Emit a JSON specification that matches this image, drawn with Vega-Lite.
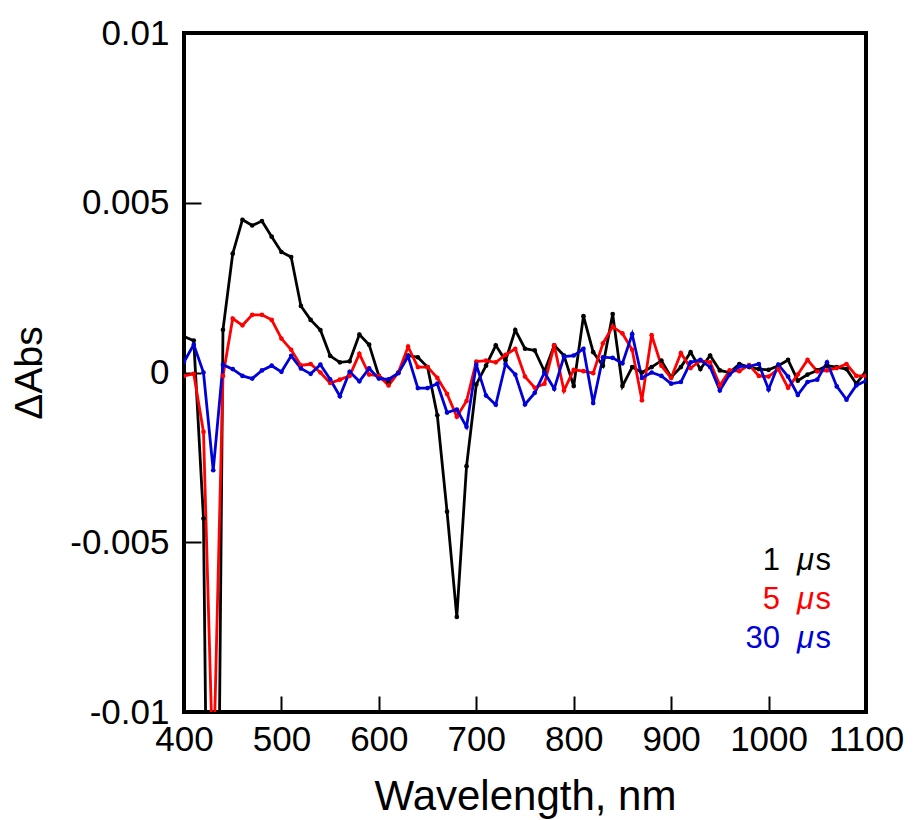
{
  "$schema": "https://vega.github.io/schema/vega-lite/v6.json",
  "width": 682,
  "height": 679,
  "autosize": "none",
  "padding": {"left": 184, "top": 33, "right": 49, "bottom": 108},
  "background": "white",
  "config": {
    "view": {"stroke": "black", "strokeWidth": 4},
    "font": "Liberation Sans",
    "axis": {"grid": false, "domain": false, "labelColor": "black", "titleColor": "black", "tickColor": "black", "titleFontWeight": "normal", "labelFlush": false, "labelOverlap": false}
  },
  "datasets": {
    "spec": [
      {"wl":400,"k1":0.00106,"k5":-0.0001,"k30":0.00031},
      {"wl":410,"k1":0.00094,"k5":-0.00004,"k30":0.00082},
      {"wl":420,"k1":-0.0043,"k5":-0.00175,"k30":0.0},
      {"wl":430,"k1":-0.031,"k5":-0.012,"k30":-0.00288},
      {"wl":440,"k1":0.00126,"k5":-0.0001,"k30":0.00023},
      {"wl":450,"k1":0.0035,"k5":0.00159,"k30":0.0001},
      {"wl":460,"k1":0.0045,"k5":0.00139,"k30":-0.0001},
      {"wl":470,"k1":0.00433,"k5":0.0017,"k30":-0.00018},
      {"wl":480,"k1":0.00446,"k5":0.0017,"k30":0.00006},
      {"wl":490,"k1":0.0040,"k5":0.00155,"k30":0.0002},
      {"wl":500,"k1":0.00355,"k5":0.001,"k30":0.00002},
      {"wl":510,"k1":0.0034,"k5":0.00067,"k30":0.00049},
      {"wl":520,"k1":0.00196,"k5":0.00021,"k30":0.00012},
      {"wl":530,"k1":0.00155,"k5":0.00025,"k30":-0.00004},
      {"wl":540,"k1":0.00125,"k5":0.0,"k30":0.00023},
      {"wl":550,"k1":0.00049,"k5":-0.00031,"k30":-0.0002},
      {"wl":560,"k1":0.0003,"k5":-0.00021,"k30":-0.0007},
      {"wl":570,"k1":0.00033,"k5":-0.0001,"k30":0.00002},
      {"wl":580,"k1":0.00112,"k5":0.00055,"k30":-0.00026},
      {"wl":590,"k1":0.00082,"k5":-0.00006,"k30":0.00012},
      {"wl":600,"k1":-0.0001,"k5":-0.0001,"k30":-0.00018},
      {"wl":610,"k1":-0.0003,"k5":-0.00038,"k30":-0.0002},
      {"wl":620,"k1":0.0,"k5":0.0,"k30":-0.00002},
      {"wl":630,"k1":0.0005,"k5":0.00076,"k30":0.00048},
      {"wl":640,"k1":0.00045,"k5":0.00016,"k30":-0.00046},
      {"wl":650,"k1":0.00016,"k5":0.00016,"k30":-0.00046},
      {"wl":660,"k1":-0.00126,"k5":-0.00016,"k30":-0.00033},
      {"wl":670,"k1":-0.0041,"k5":-0.00063,"k30":-0.00118},
      {"wl":680,"k1":-0.0072,"k5":-0.0013,"k30":-0.00109},
      {"wl":690,"k1":-0.00276,"k5":-0.00084,"k30":-0.0016},
      {"wl":700,"k1":-0.00035,"k5":0.00032,"k30":0.00023},
      {"wl":710,"k1":0.0002,"k5":0.00035,"k30":-0.00068},
      {"wl":720,"k1":0.0008,"k5":0.0003,"k30":-0.00095},
      {"wl":730,"k1":0.00035,"k5":0.00052,"k30":0.00025},
      {"wl":740,"k1":0.00125,"k5":0.0007,"k30":-0.00006},
      {"wl":750,"k1":0.0007,"k5":-0.00012,"k30":-0.00094},
      {"wl":760,"k1":0.00065,"k5":-0.00045,"k30":-0.0006},
      {"wl":770,"k1":0.00003,"k5":-0.00033,"k30":0.0},
      {"wl":780,"k1":0.0008,"k5":0.0008,"k30":-0.00048},
      {"wl":790,"k1":0.0005,"k5":-0.00053,"k30":0.00047},
      {"wl":800,"k1":-0.0004,"k5":0.00008,"k30":0.0005},
      {"wl":810,"k1":0.00166,"k5":0.00004,"k30":0.0007},
      {"wl":820,"k1":0.0006,"k5":-0.00002,"k30":-0.0009},
      {"wl":830,"k1":0.0002,"k5":0.00086,"k30":0.00045},
      {"wl":840,"k1":0.00172,"k5":0.00135,"k30":0.00043},
      {"wl":850,"k1":-0.0004,"k5":0.00115,"k30":0.00027},
      {"wl":860,"k1":0.00016,"k5":0.00067,"k30":0.00113},
      {"wl":870,"k1":0.0,"k5":-0.00082,"k30":-0.00016},
      {"wl":880,"k1":0.00016,"k5":0.0011,"k30":0.0},
      {"wl":890,"k1":0.00035,"k5":0.0002,"k30":-0.0001},
      {"wl":900,"k1":-0.00014,"k5":-0.00016,"k30":-0.00033},
      {"wl":910,"k1":0.00016,"k5":0.00057,"k30":-0.00028},
      {"wl":920,"k1":0.0006,"k5":0.00013,"k30":0.0003},
      {"wl":930,"k1":0.0001,"k5":0.00035,"k30":0.00037},
      {"wl":940,"k1":0.0005,"k5":0.0003,"k30":0.00016},
      {"wl":950,"k1":0.00006,"k5":-0.00038,"k30":-0.00053},
      {"wl":960,"k1":0.0,"k5":0.00006,"k30":-0.00006},
      {"wl":970,"k1":0.00025,"k5":0.00004,"k30":0.00018},
      {"wl":980,"k1":0.00016,"k5":0.00022,"k30":0.00018},
      {"wl":990,"k1":0.0001,"k5":-0.0001,"k30":0.00025},
      {"wl":1000,"k1":0.00008,"k5":-0.00012,"k30":-0.0005},
      {"wl":1010,"k1":0.0002,"k5":0.0001,"k30":0.00023},
      {"wl":1020,"k1":0.00037,"k5":-0.00045,"k30":-0.00012},
      {"wl":1030,"k1":-0.00024,"k5":-0.00006,"k30":-0.00066},
      {"wl":1040,"k1":-0.00006,"k5":0.00037,"k30":-0.00028},
      {"wl":1050,"k1":0.00006,"k5":0.00003,"k30":-0.00021},
      {"wl":1060,"k1":0.0002,"k5":0.00006,"k30":0.0003},
      {"wl":1070,"k1":0.00016,"k5":0.00013,"k30":-0.00041},
      {"wl":1080,"k1":0.0001,"k5":0.00025,"k30":-0.0008},
      {"wl":1090,"k1":-0.00033,"k5":-0.0001,"k30":-0.00038},
      {"wl":1100,"k1":0.00004,"k5":-0.0001,"k30":-0.00024}
    ],
    "leg": [
      {"series":"k1","num":"1","mu":"μ","s":"s","ly":-0.00582},
      {"series":"k5","num":"5","mu":"μ","s":"s","ly":-0.00696},
      {"series":"k30","num":"30","mu":"μ","s":"s","ly":-0.00811}
    ]
  },
  "layer": [
    {
      "data": {"name": "spec"},
      "transform": [{"fold": ["k1", "k5", "k30"], "as": ["series", "v"]}],
      "mark": {"type": "line", "clip": true, "strokeWidth": 2.8},
      "encoding": {
        "x": {"field": "wl", "type": "quantitative", "title": "Wavelength, nm",
          "scale": {"domain": [400, 1100], "nice": false, "zero": false},
          "axis": {"values": [400,500,600,700,800,900,1000,1100], "format": "d", "labelFontSize": 35, "titleFontSize": 42, "tickSize": -16, "tickWidth": 2, "labelPadding": 26, "titlePadding": 19}},
        "y": {"field": "v", "type": "quantitative", "title": "ΔAbs",
          "scale": {"domain": [-0.01, 0.01], "nice": false, "zero": false},
          "axis": {"values": [-0.01,-0.005,0,0.005,0.01], "labelExpr": "toString(datum.value)", "labelFontSize": 35, "titleFontSize": 39, "tickSize": -17, "tickWidth": 2, "labelPadding": 32, "titlePadding": 20}},
        "color": {"field": "series", "type": "nominal", "legend": null,
          "scale": {"domain": ["k1", "k5", "k30"], "range": ["#000000", "#ff0000", "#0000d8"]}}
      }
    },
    {
      "data": {"name": "spec"},
      "transform": [{"fold": ["k1", "k5", "k30"], "as": ["series", "v"]}],
      "mark": {"type": "point", "clip": true, "filled": true, "opacity": 1, "size": 22},
      "encoding": {
        "x": {"field": "wl", "type": "quantitative", "title": "Wavelength, nm"},
        "y": {"field": "v", "type": "quantitative", "title": "ΔAbs"},
        "color": {"field": "series", "type": "nominal", "legend": null}
      }
    },
    {
      "data": {"name": "leg"},
      "mark": {"type": "text", "align": "right", "baseline": "alphabetic", "fontSize": 31, "dx": -50},
      "encoding": {
        "x": {"datum": 1063, "type": "quantitative", "title": "Wavelength, nm"},
        "y": {"field": "ly", "type": "quantitative", "title": "ΔAbs"},
        "text": {"field": "num"},
        "color": {"field": "series", "type": "nominal", "legend": null}
      }
    },
    {
      "data": {"name": "leg"},
      "mark": {"type": "text", "align": "right", "baseline": "alphabetic", "fontSize": 31, "fontStyle": "italic", "dx": -16},
      "encoding": {
        "x": {"datum": 1063, "type": "quantitative", "title": "Wavelength, nm"},
        "y": {"field": "ly", "type": "quantitative", "title": "ΔAbs"},
        "text": {"field": "mu"},
        "color": {"field": "series", "type": "nominal", "legend": null}
      }
    },
    {
      "data": {"name": "leg"},
      "mark": {"type": "text", "align": "right", "baseline": "alphabetic", "fontSize": 31, "dx": 1},
      "encoding": {
        "x": {"datum": 1063, "type": "quantitative", "title": "Wavelength, nm"},
        "y": {"field": "ly", "type": "quantitative", "title": "ΔAbs"},
        "text": {"field": "s"},
        "color": {"field": "series", "type": "nominal", "legend": null}
      }
    }
  ]
}
